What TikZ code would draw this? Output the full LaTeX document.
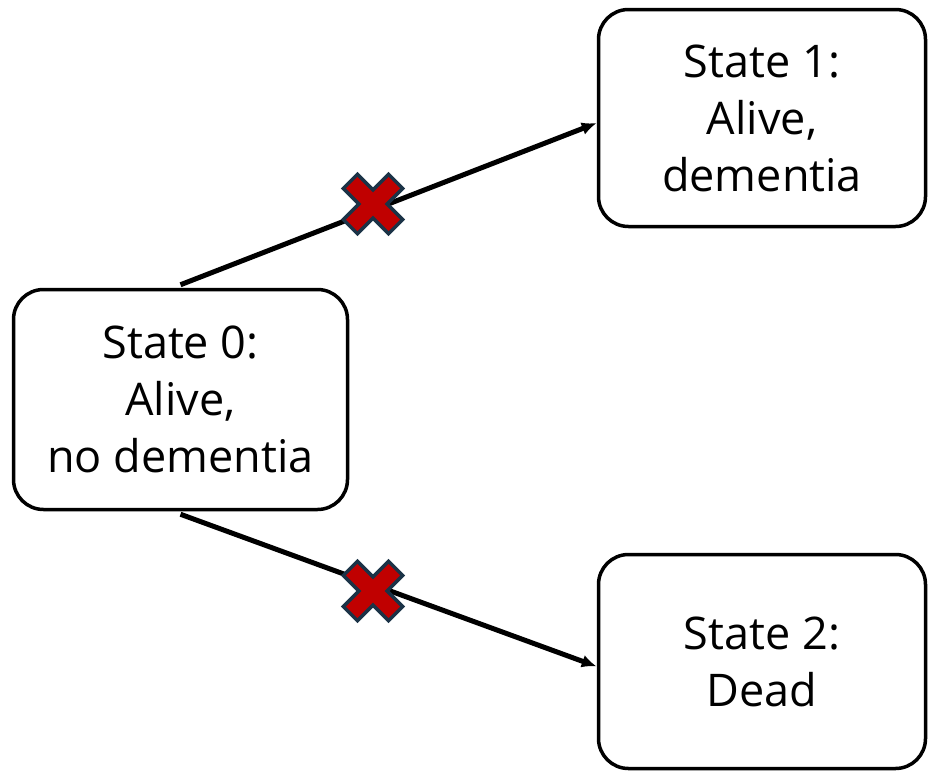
\documentclass[tikz,border=0pt]{standalone}
\usepackage{fontspec}
\setmainfont{Open Sans}
\usetikzlibrary{arrows.meta}
\definecolor{xred}{HTML}{C00000}
\definecolor{xedge}{HTML}{1B3347}
\begin{document}
\begin{tikzpicture}[x=1pt,y=-1pt,
  state/.style={draw=black, line width=3.5pt, rounded corners=30pt, fill=white,
    align=center, font=\fontsize{45}{57}\selectfont, inner sep=0pt},
  trans/.style={line width=5pt, -{Latex[length=15pt,width=13pt]}},
  cross/.pic={
    \path[fill=xred, draw=xedge, line width=3.5pt, line join=miter, rotate=45]
      (10,32) -- (10,10) -- (32,10) -- (32,-10) -- (10,-10) -- (10,-32)
      -- (-10,-32) -- (-10,-10) -- (-32,-10) -- (-32,10) -- (-10,10)
      -- (-10,32) -- cycle;
  }
]
\useasboundingbox (0,0) rectangle (928,771);

% the three states
\node[state, minimum width=334pt, minimum height=220pt] (s0) at (180.5,399.5)
  {State 0:\\Alive,\\no dementia};
\node[state, minimum width=327pt, minimum height=217pt] (s1) at (762,118)
  {State 1:\\Alive,\\dementia};
\node[state, minimum width=327pt, minimum height=214pt] (s2) at (762,661.5)
  {State 2:\\Dead};

% transitions
\draw[trans] ([yshift=3pt]s0.north) -- ([yshift=-5pt]s1.west);
\draw[trans] ([yshift=-3pt]s0.south) -- ([yshift=-5pt]s2.west);

% blocked transitions
\pic at (373,204) {cross};
\pic at (373,591) {cross};
\end{tikzpicture}
\end{document}
